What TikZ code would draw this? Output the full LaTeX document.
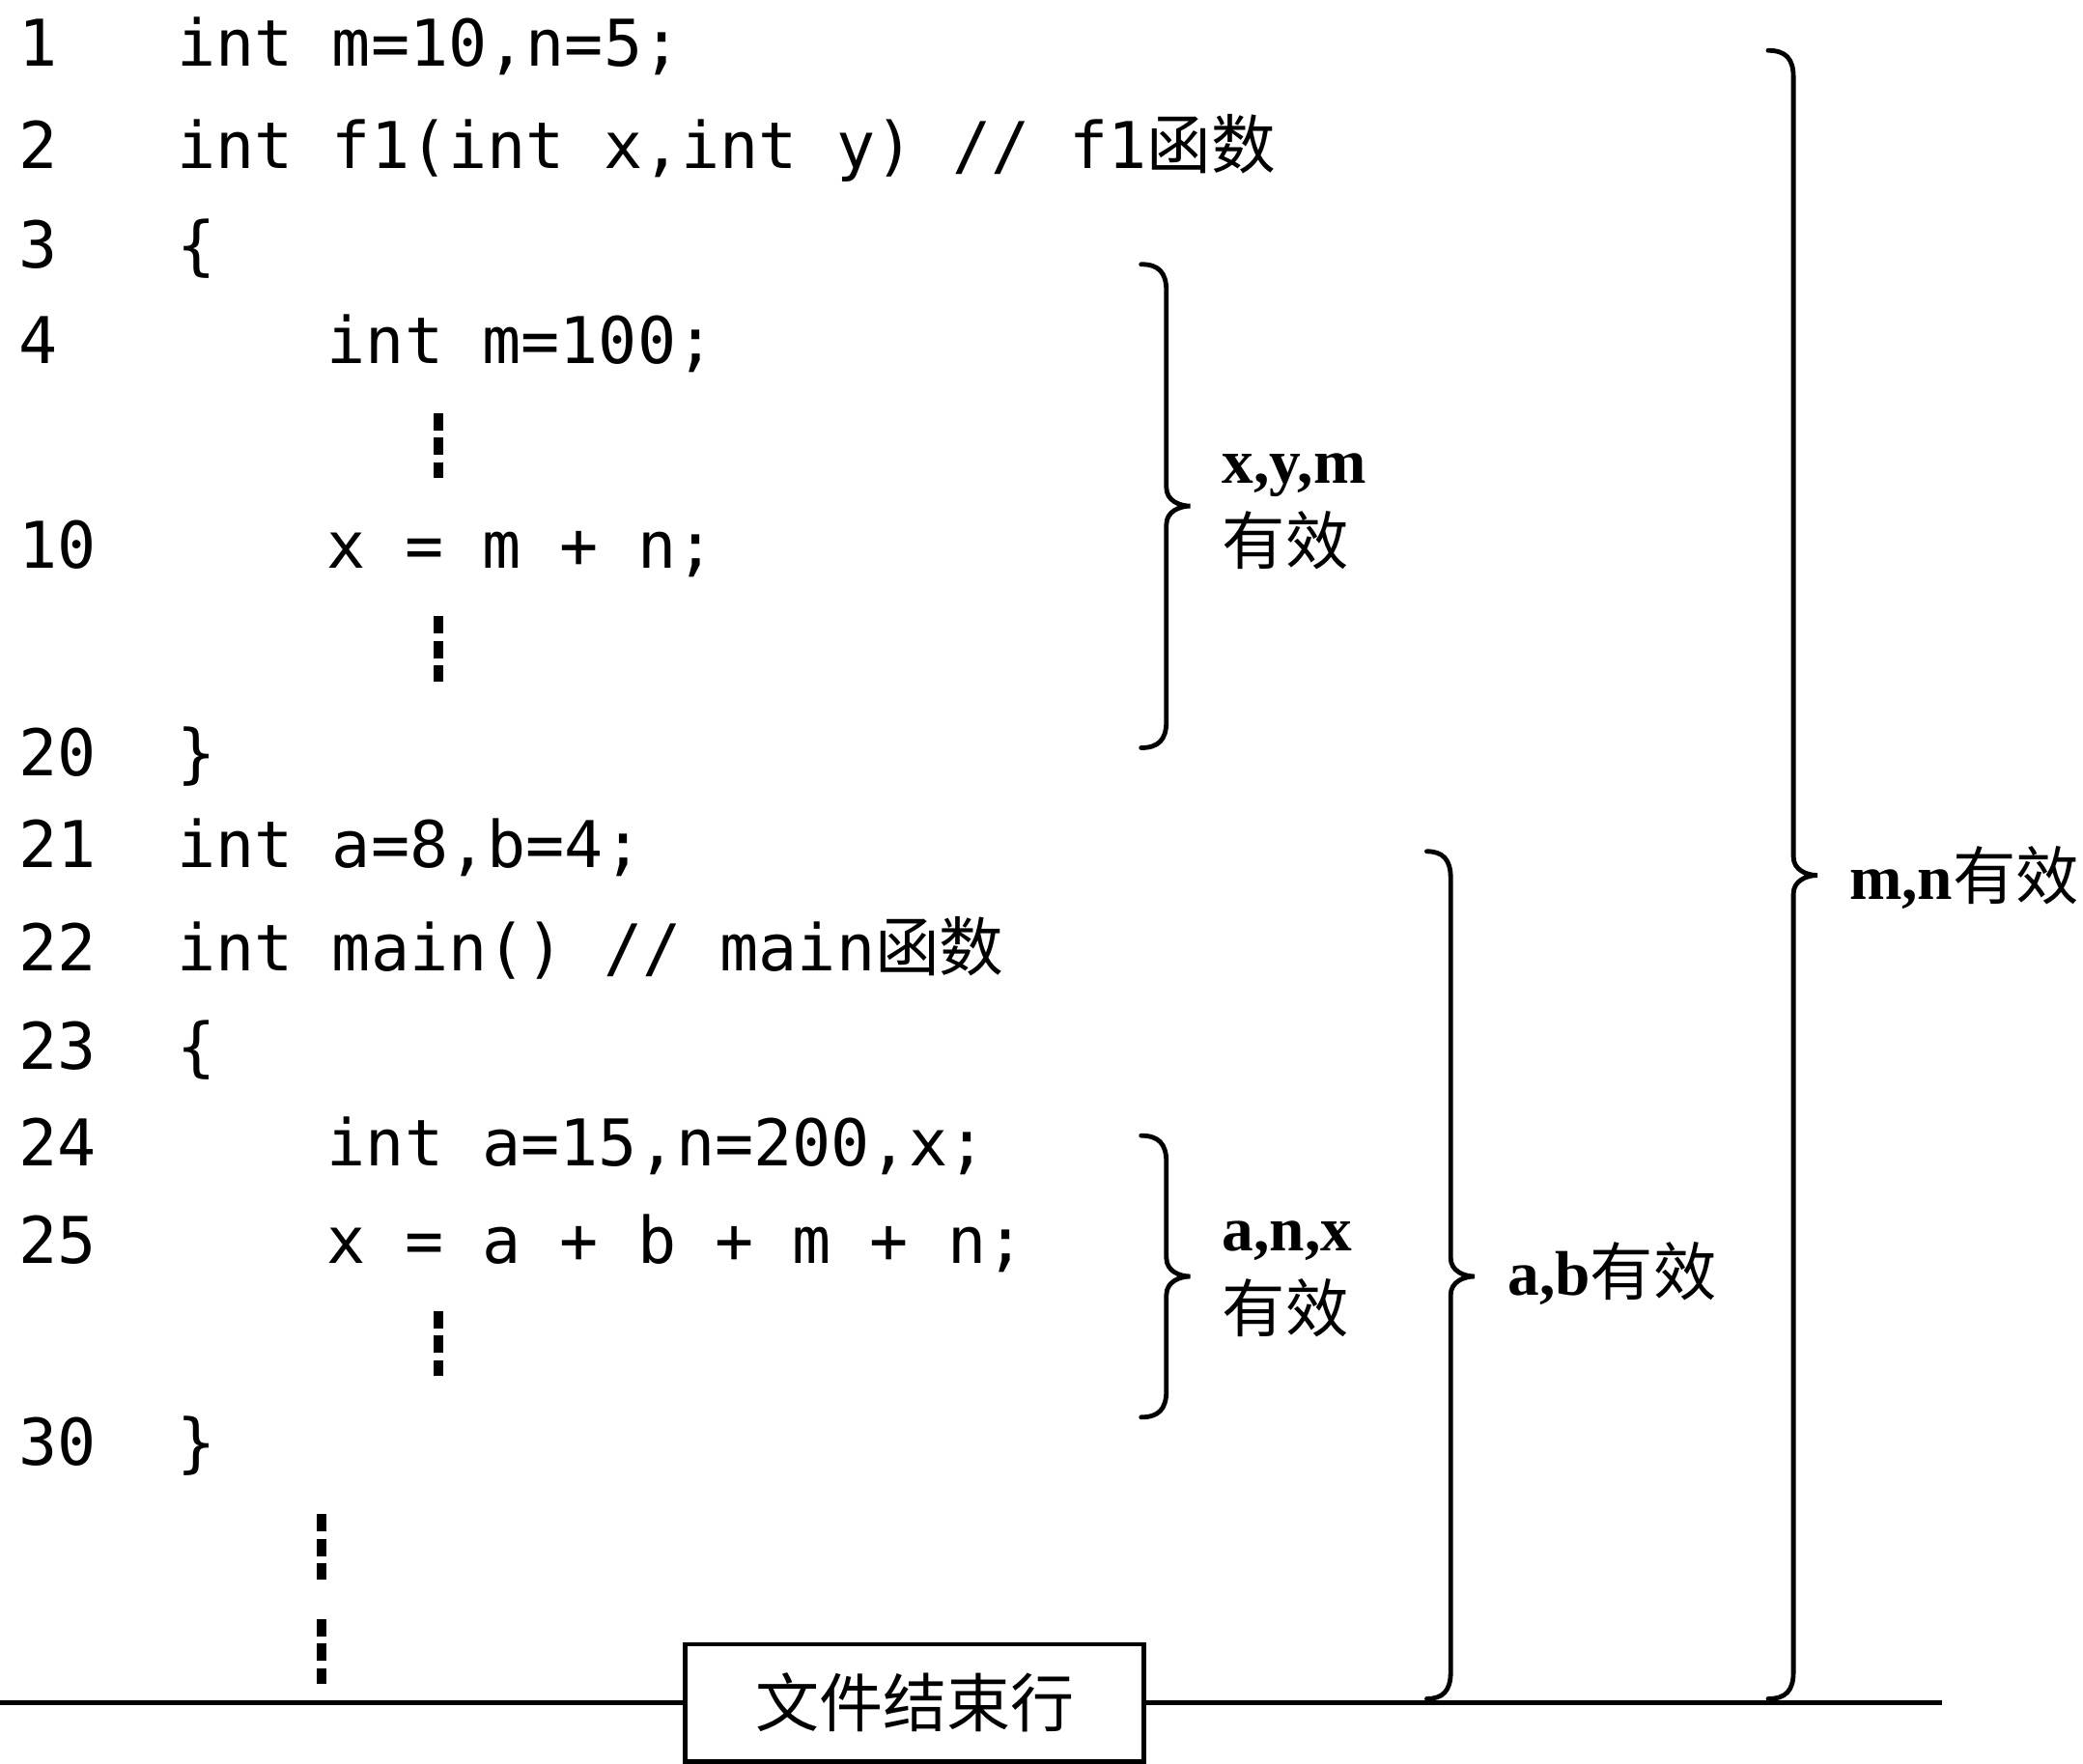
\documentclass[tikz,border=0pt]{standalone}
\usepackage{fontspec}
\setmainfont{Liberation Serif}
\newfontfamily\codefont{DejaVu Sans Mono}
\newfontfamily\cjk{Noto Sans CJK SC}
\begin{document}
\begin{tikzpicture}[x=1pt,y=-1pt,
  code/.style={anchor=base west,inner sep=0pt,font=\codefont\fontsize{48.5}{48.5}\selectfont},
  lbl/.style={anchor=base west,inner sep=0pt,font=\bfseries\fontsize{47.5}{47.5}\selectfont},
  bracepath/.style={line width=3.5pt,line cap=round},
  dots/.style={line width=7pt,dash pattern=on 13pt off 5.5pt},
  endbox/.style={draw,line width=3.5pt,minimum width=345pt,minimum height=88pt,inner sep=0pt,font=\cjk\fontsize{48}{48}\selectfont}]
\useasboundingbox (0,0) rectangle (1568,1327.4);
% line numbers
\foreach \n/\y in {1/50,2/127,3/202,4/274,10/428,20/584,21/653,22/731,23/805,24/878,25/951,30/1103}{
  \node[code] (n\n) at (14,\y) {\n};
}
% code
\node[code] (c1) at (133,50) {int m=10,n=5;};
\node[code] (c2) at (133,127) {int f1(int x,int y) // f1{\cjk 函数}};
\node[code] (c3) at (133,202) {\{};
\node[code] (c4) at (246,274) {int m=100;};
\node[code] (c10) at (246,428) {x = m + n;};
\node[code] (c20) at (133,584) {\}};
\node[code] (c21) at (133,653) {int a=8,b=4;};
\node[code] (c22) at (133,731) {int main() // main{\cjk 函数}};
\node[code] (c23) at (133,805) {\{};
\node[code] (c24) at (246,878) {int a=15,n=200,x;};
\node[code] (c25) at (246,951) {x = a + b + m + n;};
\node[code] (c30) at (133,1103) {\}};
% vertical dots
\draw[dots] (330,311) -- (330,360);
\draw[dots] (330,464) -- (330,513);
\draw[dots] (330,987) -- (330,1036);
\draw[dots] (242,1140) -- (242,1189);
\draw[dots] (242,1219) -- (242,1268);
% end-of-file line
\node[endbox] (eof) at (688.5,1282) {文件结束行};
\coordinate (L) at (0,1282);
\coordinate (R) at (1462,1282);
\draw[line width=3.5pt] (L) -- (eof.west);
\draw[line width=3.5pt] (eof.east) -- (R);
% braces: \brc{xl}{xv}{xt}{top}{mid}{bot}
\newcommand{\brc}[6]{%
  \draw[bracepath] (#1,#4) .. controls (#2-6,#4) and (#2,#4+6) .. (#2,#4+20)
    -- (#2,#5-14) .. controls (#2,#5-4) and (#3-8,#5) .. (#3,#5)
    .. controls (#3-8,#5) and (#2,#5+4) .. (#2,#5+14)
    -- (#2,#6-20) .. controls (#2,#6-6) and (#2-6,#6) .. (#1,#6);}
\brc{859}{878}{896}{199}{381}{563}
\brc{859}{878}{896}{855}{961}{1067}
\brc{1074}{1092}{1110}{641}{961}{1279}
\brc{1331}{1350}{1368}{38}{659}{1279}
% labels
\node[lbl] (xym) at (920,364) {x,y,m};
\node[lbl] (xymv) at (920,425) {\cjk\mdseries 有效};
\node[lbl] (anx) at (920,942) {a,n,x};
\node[lbl] (anxv) at (920,1003) {\cjk\mdseries 有效};
\node[lbl] (ab) at (1135,975) {a,b{\cjk\mdseries 有效}};
\node[lbl] (mn) at (1392,677) {m,n{\cjk\mdseries 有效}};
\end{tikzpicture}
\end{document}
